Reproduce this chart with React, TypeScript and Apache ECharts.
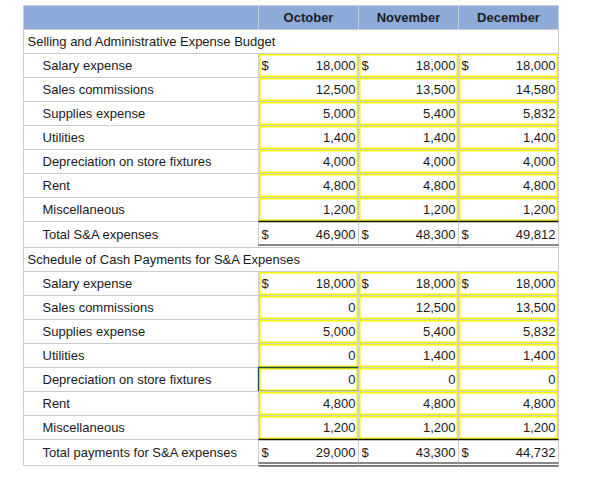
import React, { useEffect, useRef } from "react";
import * as echarts from "echarts";

// ---- data ----
const months = ["October", "November", "December"];
const budgetTitle = "Selling and Administrative Expense Budget";
const budgetItems = [
  "Salary expense",
  "Sales commissions",
  "Supplies expense",
  "Utilities",
  "Depreciation on store fixtures",
  "Rent",
  "Miscellaneous",
];
const budgetOct = [18000, 12500, 5000, 1400, 4000, 4800, 1200];
const budgetNov = [18000, 13500, 5400, 1400, 4000, 4800, 1200];
const budgetDec = [18000, 14580, 5832, 1400, 4000, 4800, 1200];
const budgetTotalLabel = "Total S&A expenses";
const budgetTotals = [46900, 48300, 49812];

const paymentTitle = "Schedule of Cash Payments for S&A Expenses";
const paymentItems = [
  "Salary expense",
  "Sales commissions",
  "Supplies expense",
  "Utilities",
  "Depreciation on store fixtures",
  "Rent",
  "Miscellaneous",
];
const paymentOct = [18000, 0, 5000, 0, 0, 4800, 1200];
const paymentNov = [18000, 12500, 5400, 1400, 0, 4800, 1200];
const paymentDec = [18000, 13500, 5832, 1400, 0, 4800, 1200];
const paymentTotalLabel = "Total payments for S&A expenses";
const paymentTotals = [29000, 43300, 44732];

// ---- layout ----
const COL_WIDTHS = [235, 99.5, 100, 100];
const ROW_HEIGHTS = [24, 24, 24, 24, 24, 24, 24, 24, 24, 26, 24, 24, 24, 24, 24, 24, 24, 24, 26];
const FONT = '"Liberation Sans", Arial, sans-serif';

const colEdges: number[] = [0];
COL_WIDTHS.forEach((w) => colEdges.push(colEdges[colEdges.length - 1] + w));
const rowEdges: number[] = [0];
ROW_HEIGHTS.forEach((h) => rowEdges.push(rowEdges[rowEdges.length - 1] + h));

type Cell = {
  col: number;
  row: number;
  span: number;
  kind: "header" | "title" | "label" | "input" | "total" | "selected";
  text: string;
  dollar?: boolean;
};

const fmt = (v: number) => v.toLocaleString("en-US");

function buildCells(): Cell[] {
  const cells: Cell[] = [];
  cells.push({ col: 0, row: 0, span: 1, kind: "header", text: "" });
  months.forEach((m, i) => cells.push({ col: i + 1, row: 0, span: 1, kind: "header", text: m }));

  const section = (
    startRow: number,
    title: string,
    items: string[],
    cols: number[][],
    totalLabel: string,
    totals: number[],
    selected: [number, number] | null
  ) => {
    cells.push({ col: 0, row: startRow, span: 4, kind: "title", text: title });
    items.forEach((lab, i) => {
      const r = startRow + 1 + i;
      cells.push({ col: 0, row: r, span: 1, kind: "label", text: lab });
      cols.forEach((vals, c) => {
        const isSel = selected && selected[0] === i && selected[1] === c;
        cells.push({
          col: c + 1,
          row: r,
          span: 1,
          kind: isSel ? "selected" : "input",
          text: fmt(vals[i]),
          dollar: i === 0,
        });
      });
    });
    const tr = startRow + 1 + items.length;
    cells.push({ col: 0, row: tr, span: 1, kind: "label", text: totalLabel });
    totals.forEach((t, c) =>
      cells.push({ col: c + 1, row: tr, span: 1, kind: "total", text: fmt(t), dollar: true })
    );
  };

  section(1, budgetTitle, budgetItems, [budgetOct, budgetNov, budgetDec], budgetTotalLabel, budgetTotals, null);
  section(10, paymentTitle, paymentItems, [paymentOct, paymentNov, paymentDec], paymentTotalLabel, paymentTotals, [4, 0]);
  return cells;
}

const cells = buildCells();

export default function App() {
  const ref = useRef<HTMLDivElement>(null);

  useEffect(() => {
    if (!ref.current) return;
    const chart = echarts.init(ref.current, null, { renderer: "svg" });

    const renderItem = (params: any, api: any) => {
      const c = cells[params.dataIndex];
      const p0 = api.coord([colEdges[c.col], rowEdges[c.row]]);
      const p1 = api.coord([colEdges[c.col + c.span], rowEdges[c.row + 1]]);
      const x0 = Math.round(p0[0]) + 0.5;
      const y0 = Math.round(p0[1]) + 0.5;
      const x1 = Math.round(p1[0]) + 0.5;
      const y1 = Math.round(p1[1]) + 0.5;
      const w = x1 - x0;
      const h = y1 - y0;
      const cy = (y0 + y1) / 2 - 0.5;
      const children: any[] = [];

      if (c.kind === "header") {
        children.push({
          type: "rect",
          shape: { x: x0, y: y0, width: w, height: h },
          style: { fill: "#8eaad9", stroke: "#c6cedc", lineWidth: 1 },
        });
        if (c.text)
          children.push({
            type: "text",
            style: {
              text: c.text,
              x: (x0 + x1) / 2,
              y: cy,
              align: "center",
              verticalAlign: "middle",
              font: `bold 13px ${FONT}`,
              fill: "#1d1d1d",
            },
          });
      } else {
        children.push({
          type: "rect",
          shape: { x: x0, y: y0, width: w, height: h },
          style: { fill: "#ffffff", stroke: "#cccccc", lineWidth: 1 },
        });
        if (c.kind === "title" || c.kind === "label") {
          children.push({
            type: "text",
            style: {
              text: c.text,
              x: x0 + (c.kind === "title" ? 4 : 19),
              y: cy,
              align: "left",
              verticalAlign: "middle",
              font: `13px ${FONT}`,
              fill: "#1a1a1a",
            },
          });
        } else {
          if (c.kind === "input" || c.kind === "selected") {
            children.push({
              type: "rect",
              shape: { x: x0 + 1.25, y: y0 + 1.25, width: w - 2.5, height: h - 2.5 },
              style: { fill: "none", stroke: "#f5f500", lineWidth: 1.6 },
            });
          }
          if (c.kind === "selected") {
            children.push({
              type: "rect",
              shape: { x: x0, y: y0, width: w, height: h },
              style: { fill: "none", stroke: "#1d4656", lineWidth: 1.3 },
            });
          }
          if (c.kind === "total") {
            children.push({
              type: "line",
              shape: { x1: x0, y1: y0, x2: x1, y2: y0 },
              style: { stroke: "#111111", lineWidth: 1.3 },
            });
            children.push({
              type: "line",
              shape: { x1: x0, y1: y1 - 2.5, x2: x1, y2: y1 - 2.5 },
              style: { stroke: "#111111", lineWidth: 1.2 },
            });
            children.push({
              type: "line",
              shape: { x1: x0, y1: y1 + 0.5, x2: x1, y2: y1 + 0.5 },
              style: { stroke: "#111111", lineWidth: 1.2 },
            });
          }
          if (c.dollar) {
            children.push({
              type: "text",
              style: {
                text: "$",
                x: x0 + 3,
                y: cy,
                align: "left",
                verticalAlign: "middle",
                font: `13px ${FONT}`,
                fill: "#1a1a1a",
              },
            });
          }
          children.push({
            type: "text",
            style: {
              text: c.text,
              x: x1 - 3,
              y: cy,
              align: "right",
              verticalAlign: "middle",
              font: `13px ${FONT}`,
              fill: "#1a1a1a",
            },
          });
        }
      }
      return { type: "group", children };
    };

    chart.setOption({
      animation: false,
      grid: {
        left: 23,
        top: 5,
        width: colEdges[colEdges.length - 1],
        height: rowEdges[rowEdges.length - 1],
      },
      xAxis: { type: "value", min: 0, max: colEdges[colEdges.length - 1], show: false },
      yAxis: { type: "value", min: 0, max: rowEdges[rowEdges.length - 1], inverse: true, show: false },
      series: [
        {
          type: "custom",
          clip: false,
          renderItem,
          data: cells.map((c) => [c.col, c.row, c.span]),
        },
      ],
    });

    return () => chart.dispose();
  }, []);

  return (
    <div
      ref={ref}
      style={{ position: "fixed", left: 0, top: 0, width: 611, height: 496, background: "#ffffff" }}
    />
  );
}
